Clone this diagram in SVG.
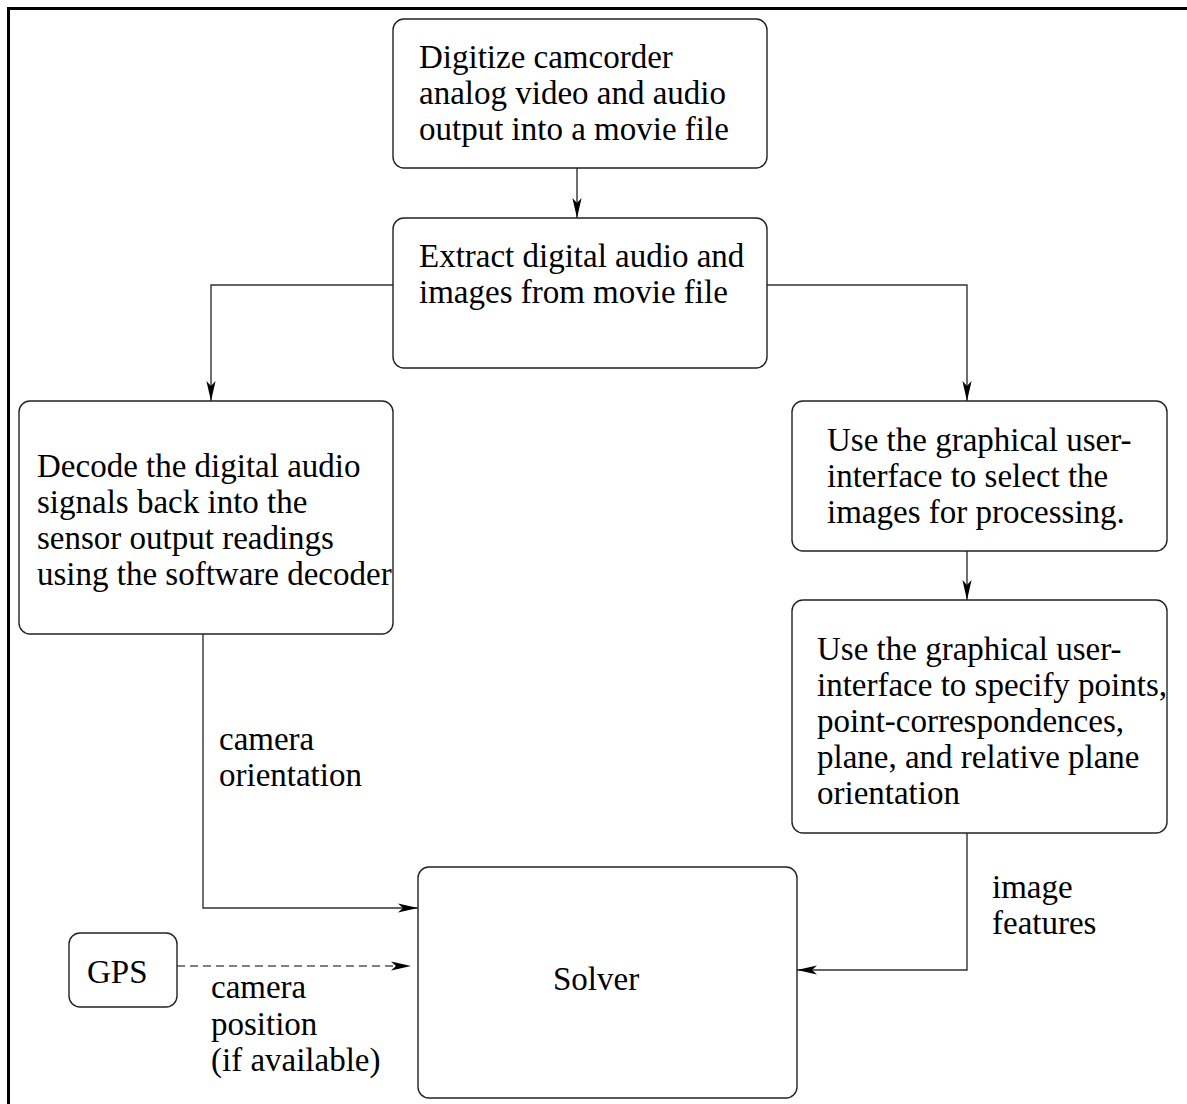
<svg xmlns="http://www.w3.org/2000/svg" width="1187" height="1104" viewBox="0 0 1187 1104">
  <style>
    .box { fill: #fff; stroke: #222; stroke-width: 1.4; }
    .lbl { font-family: "Liberation Serif", "Times New Roman", serif; font-size: 33px; fill: #000; }
    .wire { fill: none; stroke: #333; stroke-width: 1.4; }
    .dash { stroke-dasharray: 8 5; stroke: #555; }
  </style>
  <defs>
    <marker id="arrow" markerUnits="userSpaceOnUse" markerWidth="24" markerHeight="12" viewBox="-22 -6 24 12" refX="0" refY="0" orient="auto">
      <path d="M0,0 L-20,-4.6 L-15,0 L-20,4.6 Z" fill="#000"/>
    </marker>
  </defs>
  <rect width="1187" height="1104" fill="#fff"/>

  <!-- page frame (top and left edges only) -->
  <g id="frame" stroke="#000" stroke-width="3" fill="none">
    <path d="M1187,8.5 H8.5 V1104"/>
  </g>

  <!-- connectors -->
  <g id="connectors">
    <path class="wire" d="M577,168 V218" marker-end="url(#arrow)"/>
    <path class="wire" d="M393,285 H211 V401" marker-end="url(#arrow)"/>
    <path class="wire" d="M767,285 H967 V401" marker-end="url(#arrow)"/>
    <path class="wire" d="M967,551 V600" marker-end="url(#arrow)"/>
    <path class="wire" d="M203,634 V908 H418" marker-end="url(#arrow)"/>
    <path class="wire" d="M967,833 V970 H797" marker-end="url(#arrow)"/>
    <path class="wire dash" d="M177,966 H411" marker-end="url(#arrow)"/>
  </g>

  <g id="digitize">
    <rect class="box" x="393" y="19" width="374" height="149" rx="11"/>
    <text class="lbl" x="419" y="68">Digitize camcorder</text>
    <text class="lbl" x="419" y="104">analog video and audio</text>
    <text class="lbl" x="419" y="140">output into a movie file</text>
  </g>

  <g id="extract">
    <rect class="box" x="393" y="218" width="374" height="150" rx="11"/>
    <text class="lbl" x="419" y="267">Extract digital audio and</text>
    <text class="lbl" x="419" y="303">images from movie file</text>
  </g>

  <g id="decode">
    <rect class="box" x="19" y="401" width="374" height="233" rx="11"/>
    <text class="lbl" x="37" y="477">Decode the digital audio</text>
    <text class="lbl" x="37" y="513">signals back into the</text>
    <text class="lbl" x="37" y="549">sensor output readings</text>
    <text class="lbl" x="37" y="585">using the software decoder</text>
  </g>

  <g id="select">
    <rect class="box" x="792" y="401" width="375" height="150" rx="11"/>
    <text class="lbl" x="827" y="451">Use the graphical user-</text>
    <text class="lbl" x="827" y="487">interface to select the</text>
    <text class="lbl" x="827" y="523">images for processing.</text>
  </g>

  <g id="specify">
    <rect class="box" x="792" y="600" width="375" height="233" rx="11"/>
    <text class="lbl" x="817" y="660">Use the graphical user-</text>
    <text class="lbl" x="817" y="696">interface to specify points,</text>
    <text class="lbl" x="817" y="732">point-correspondences,</text>
    <text class="lbl" x="817" y="768">plane, and relative plane</text>
    <text class="lbl" x="817" y="804">orientation</text>
  </g>

  <g id="solver">
    <rect class="box" x="418" y="867" width="379" height="231" rx="11"/>
    <text class="lbl" x="553" y="990">Solver</text>
  </g>

  <g id="gps">
    <rect class="box" x="69" y="933" width="108" height="74" rx="11"/>
    <text class="lbl" x="87" y="983">GPS</text>
  </g>

  <!-- connector labels -->
  <g id="labels">
    <text class="lbl" x="219" y="750">camera</text>
    <text class="lbl" x="219" y="786">orientation</text>
    <text class="lbl" x="992" y="898">image</text>
    <text class="lbl" x="992" y="934">features</text>
    <text class="lbl" x="211" y="998">camera</text>
    <text class="lbl" x="211" y="1035">position</text>
    <text class="lbl" x="211" y="1071">(if available)</text>
  </g>
</svg>
